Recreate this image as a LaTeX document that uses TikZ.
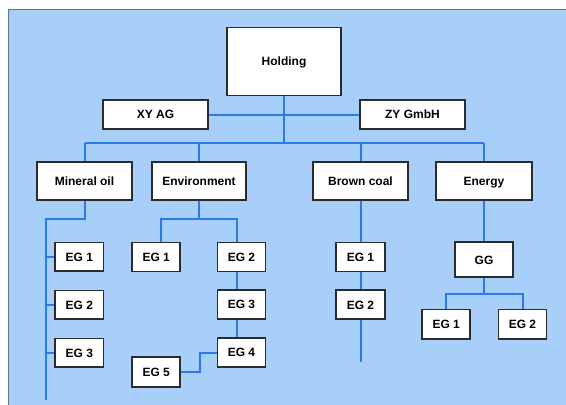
\documentclass[tikz,border=0pt]{standalone}
\usepackage{fontspec}
\setmainfont{Liberation Sans}
\definecolor{bgblue}{HTML}{A7CFFA}
\definecolor{lineblue}{HTML}{2A7AEA}
\definecolor{boxline}{HTML}{2B2B2B}
\definecolor{frame}{HTML}{5E7488}
\begin{document}
\begin{tikzpicture}[x=1pt,y=-1pt,
  box/.style={draw=boxline, line width=1.7pt, fill=white, inner sep=0pt,
    text height=8.6pt, text depth=0pt,
    font=\fontsize{12}{14}\selectfont\bfseries},
  conn/.style={draw=lineblue, line width=2pt}]
\useasboundingbox (0,0) rectangle (566,405);
\fill[white] (0,0) rectangle (566,405);
\fill[bgblue] (8,9) rectangle (570,410);
\draw[frame, line width=1pt] (8,410) -- (8,9) -- (570,9);

% helper coordinates
\coordinate (busmid) at (284,143);
\coordinate (busL) at (84.5,143);
\coordinate (busR) at (484,143);
\coordinate (moj) at (84.5,219);
\coordinate (mol) at (46,219);
\coordinate (moend) at (46,400);
\coordinate (envj) at (199,219);
\coordinate (envL) at (161,219);
\coordinate (envR) at (237,219);
\coordinate (e5j) at (200,371.7);
\coordinate (bend) at (360.5,362);
\coordinate (ggj) at (484,294.3);
\coordinate (ggL) at (446.2,294.3);
\coordinate (ggR) at (522.5,294.3);

% nodes
\node[box, minimum width=114pt, minimum height=68pt] (hold) at (284,61.5) {Holding};
\node[box, minimum width=105pt, minimum height=29pt] (xy) at (155.5,114.5) {XY AG};
\node[box, minimum width=105pt, minimum height=29pt] (zy) at (412.5,114.5) {ZY GmbH};

\node[box, minimum width=95pt, minimum height=38pt] (mo) at (84.5,181) {Mineral oil};
\node[box, minimum width=94pt, minimum height=38pt] (env) at (199,181) {Environment};
\node[box, minimum width=95pt, minimum height=38pt] (bc) at (360.5,181) {Brown coal};
\node[box, minimum width=96pt, minimum height=38pt] (en) at (484,181) {Energy};

\node[box, minimum width=48.5pt, minimum height=28.5pt] (m1) at (79.3,256.7) {EG 1};
\node[box, minimum width=48.5pt, minimum height=28.5pt] (m2) at (79.3,304.7) {EG 2};
\node[box, minimum width=48.5pt, minimum height=28.5pt] (m3) at (79.3,352.7) {EG 3};

\node[box, minimum width=48pt, minimum height=29pt] (e1) at (156.2,257) {EG 1};
\node[box, minimum width=48pt, minimum height=29pt] (e2) at (241.5,257) {EG 2};
\node[box, minimum width=48pt, minimum height=29pt] (e3) at (241.5,304.5) {EG 3};
\node[box, minimum width=48pt, minimum height=29pt] (e4) at (241.5,352.5) {EG 4};
\node[box, minimum width=48pt, minimum height=30pt] (e5) at (156.2,371.7) {EG 5};

\node[box, minimum width=49pt, minimum height=29pt] (b1) at (360.5,257) {EG 1};
\node[box, minimum width=49pt, minimum height=29pt] (b2) at (360.5,304.7) {EG 2};

\node[box, minimum width=58pt, minimum height=35pt] (gg) at (484,259.8) {GG};
\node[box, minimum width=48pt, minimum height=29.5pt] (g1) at (446.2,324.2) {EG 1};
\node[box, minimum width=48pt, minimum height=29.5pt] (g2) at (522.5,324.2) {EG 2};

% connectors
\draw[conn] (hold.south) -- (busmid);
\draw[conn] (xy.east) -- (zy.west);
\draw[conn] (busL) -- (busR);
\draw[conn] (busL) -- (mo.north);
\draw[conn] (busL -| env.north) -- (env.north);
\draw[conn] (busL -| bc.north) -- (bc.north);
\draw[conn] (busR) -- (en.north);

\draw[conn] (mo.south) -- (moj) -- (mol) -- (moend);
\draw[conn] (mol |- m1.west) -- (m1.west);
\draw[conn] (mol |- m2.west) -- (m2.west);
\draw[conn] (mol |- m3.west) -- (m3.west);

\draw[conn] (env.south) -- (envj);
\draw[conn] (envL |- e1.north) -- (envL) -- (envR) -- (envR |- e2.north);
\draw[conn] (envR |- e2.south) -- (envR |- e3.north);
\draw[conn] (envR |- e3.south) -- (envR |- e4.north);
\draw[conn] (e5.east) -- (e5j) -- (e5j |- e4.west) -- (e4.west);

\draw[conn] (bc.south) -- (b1.north);
\draw[conn] (b1.south) -- (b2.north);
\draw[conn] (b2.south) -- (bend);

\draw[conn] (en.south) -- (gg.north);
\draw[conn] (gg.south) -- (ggj);
\draw[conn] (ggL |- g1.north) -- (ggL) -- (ggR) -- (ggR |- g2.north);
\end{tikzpicture}
\end{document}
